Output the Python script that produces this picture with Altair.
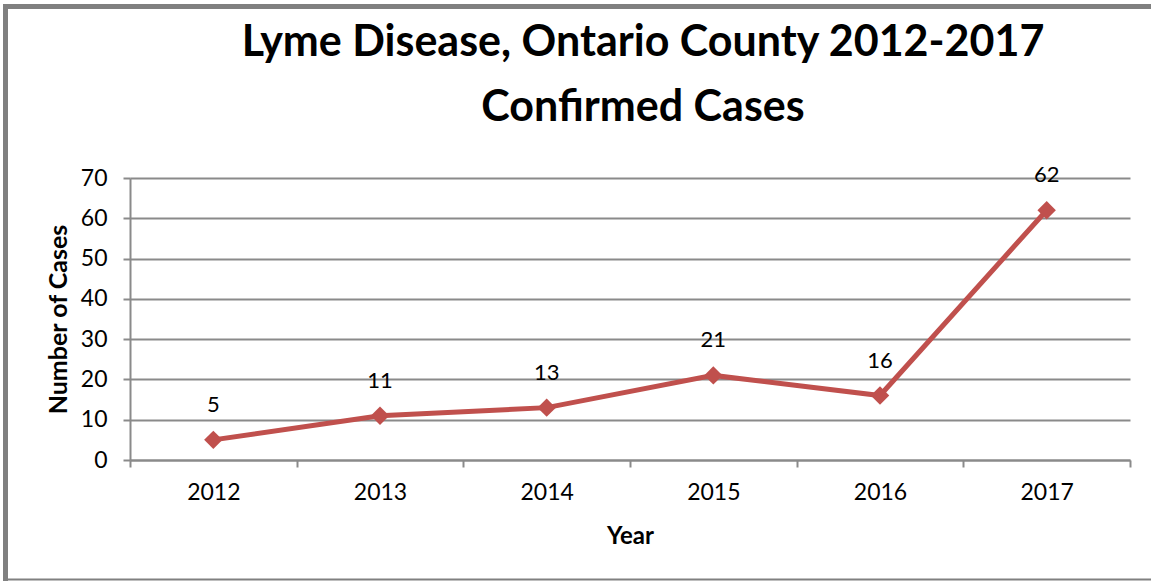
import altair as alt
import pandas as pd

years = ["2012", "2013", "2014", "2015", "2016", "2017"]
cases = [5, 11, 13, 21, 16, 62]
title_lines = ["Lyme Disease, Ontario County 2012-2017", "Confirmed Cases"]
y_ticks = [0, 10, 20, 30, 40, 50, 60, 70]

df = pd.DataFrame({"Year": years, "Cases": cases})

FONT = "Lato"
RED = "#C0504D"
GRID = "#8a8a8a"
W, H = 1000, 282
PL, PT = 130, 178

x_enc = alt.X(
    "Year:N",
    bandPosition=0.5,
    sort=years,
    scale=alt.Scale(type="band", domain=years, paddingInner=0, paddingOuter=0),
    axis=alt.Axis(
        title="Year",
        tickBand="extent",
        labelAngle=0,
        grid=False,
        domainColor=GRID,
        domainWidth=2,
        tickColor=GRID,
        tickWidth=2,
        tickSize=7,
        labelFont=FONT,
        labelFontSize=23,
        labelColor="black",
        labelPadding=14,
        titleFont=FONT,
        titleFontSize=24,
        titleFontWeight="bold",
        titleColor="black",
        titleBaseline="alphabetic",
        titleX=W / 2,
        titleY=83,
    ),
)

y_enc = alt.Y(
    "Cases:Q",
    scale=alt.Scale(domain=[0, 70], nice=False, zero=True),
    axis=alt.Axis(
        title="Number of Cases",
        values=y_ticks,
        grid=True,
        gridColor=GRID,
        gridWidth=2,
        domainColor=GRID,
        domainWidth=2,
        tickColor=GRID,
        tickWidth=2,
        tickSize=7,
        labelFont=FONT,
        labelFontSize=23,
        labelColor="black",
        labelPadding=16,
        titleFont=FONT,
        titleFontSize=25,
        titleFontWeight="bold",
        titleColor="black",
        titleBaseline="middle",
        titleAngle=270,
        titleX=58 - PL,
        titleY=H / 2,
    ),
)

line = alt.Chart(df).mark_line(color=RED, strokeWidth=5).encode(x=x_enc, y=y_enc)
points = alt.Chart(df).mark_point(
    shape="diamond", filled=True, color=RED, size=340, opacity=1
).encode(x=x_enc, y=y_enc)
labels = alt.Chart(df).mark_text(
    font=FONT, fontSize=22, color="black", baseline="alphabetic", dy=-28
).encode(x=x_enc, y=y_enc, text="Cases:Q")

title1 = alt.Chart(alt.Data(values=[{"t": title_lines[0]}])).mark_text(
    font=FONT, fontSize=43, fontWeight="bold", color="black", baseline="alphabetic", align="center"
).encode(x=alt.value(643 - PL), y=alt.value(56 - PT), text="t:N")
title2 = alt.Chart(alt.Data(values=[{"t": title_lines[1]}])).mark_text(
    font=FONT, fontSize=43, fontWeight="bold", color="black", baseline="alphabetic", align="center"
).encode(x=alt.value(643 - PL), y=alt.value(121 - PT), text="t:N")

frame_left = alt.Chart(alt.Data(values=[{}])).mark_rule(color="#808080", strokeWidth=5).encode(
    x=alt.value(5.5 - PL), y=alt.value(4 - PT), y2=alt.value(581 - PT)
)
frame_top = alt.Chart(alt.Data(values=[{}])).mark_rule(color="#808080", strokeWidth=5).encode(
    y=alt.value(6.5 - PT), x=alt.value(3 - PL), x2=alt.value(1151 - PL)
)
frame_bottom = alt.Chart(alt.Data(values=[{}])).mark_rule(color="#808080", strokeWidth=2).encode(
    y=alt.value(579.5 - PT), x=alt.value(3 - PL), x2=alt.value(1151 - PL)
)

chart = alt.layer(
    frame_left, frame_top, frame_bottom, title1, title2, line, points, labels
).properties(
    width=W,
    height=H,
    autosize=alt.AutoSizeParams(type="none"),
    padding={"left": PL, "top": PT, "right": 1151 - PL - W, "bottom": 581 - PT - H},
    background="white",
).configure_view(stroke=None)

chart.save("out.html", embed_options={"renderer": "svg", "actions": False})
